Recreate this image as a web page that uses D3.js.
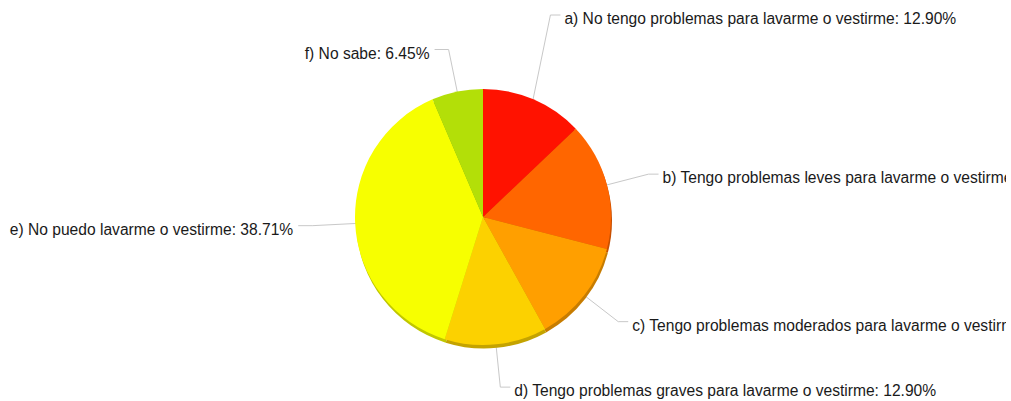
<html>
<head>
<meta charset="utf-8">
<script src="https://d3js.org/d3.v7.min.js"></script>
<style>
body {
  margin: 0;
  background: #fff;
}
svg {
  display: block;
  overflow: hidden;
}
text {
  font-family: "Liberation Sans", Arial, Helvetica, sans-serif;
  font-size: 15.6px;
  fill: #1a1a1a;
}
.leader {
  fill: none;
  stroke: #c8c8c8;
  stroke-width: 1;
}
</style>
</head>
<body>

<svg width="1006" height="401"></svg>

<script>

var categories = [
    "a) No tengo problemas para lavarme o vestirme",
    "b) Tengo problemas leves para lavarme o vestirme",
    "c) Tengo problemas moderados para lavarme o vestirme",
    "d) Tengo problemas graves para lavarme o vestirme",
    "e) No puedo lavarme o vestirme",
    "f) No sabe"
];
var percents = [12.90, 16.13, 12.90, 12.90, 38.71, 6.45];
var colors = ["#ff1200", "#ff6600", "#ff9f00", "#fcd100", "#f7ff00", "#b3df08"];

var data = categories.map(function(c, i) {
    return {name: c, value: percents[i], color: colors[i]};
});

var svg = d3.select("svg"),
    cx = 483,
    cy = 217,
    radius = 128,
    labelRadius = 171,
    topLimit = 15;

var pie = d3.pie()
    .sort(null)
    .value(d => d.value);

var arc = d3.arc()
    .innerRadius(0)
    .outerRadius(radius);

var arcs = pie(data);

var g = svg.append("g")
    .attr("transform", "translate(" + cx + "," + cy + ")");

// draw order: leader lines, shadow, slices, labels
var lines = g.append("g");
var shadow = g.append("g").attr("transform", "translate(1,3.5)");
var slices = g.append("g");
var labels = g.append("g");

function midAngle(d) {
    return (d.startAngle + d.endAngle) / 2;
}

function polar(a, r) {
    return [Math.sin(a) * r, -Math.cos(a) * r];
}

arcs.forEach(function(d) {
    var a = midAngle(d),
        right = a < Math.PI,
        rim = polar(a, radius - 2),
        elbow = polar(a, labelRadius);

    // right-hand labels close to 12 o'clock go up to the top edge
    if (right && a < Math.PI / 6) elbow[1] = topLimit - cy;

    var end = [elbow[0] + (right ? 10 : -14), elbow[1]];

    lines.append("polyline")
        .attr("class", "leader")
        .attr("points", [rim, elbow, end].map(p => p.join(",")).join(" "));

    labels.append("text")
        .attr("x", end[0] + (right ? 4 : -5))
        .attr("y", elbow[1] + 9)
        .attr("text-anchor", right ? "start" : "end")
        .text(d.data.name + ": " + d.data.value.toFixed(2) + "%");
});

shadow.selectAll("path")
    .data(arcs)
    .enter().append("path")
    .attr("d", arc)
    .attr("fill", d => d3.color(d.data.color).darker(0.7));

slices.selectAll("path")
    .data(arcs)
    .enter().append("path")
    .attr("d", arc)
    .attr("fill", d => d.data.color);

</script>

</body>
</html>
